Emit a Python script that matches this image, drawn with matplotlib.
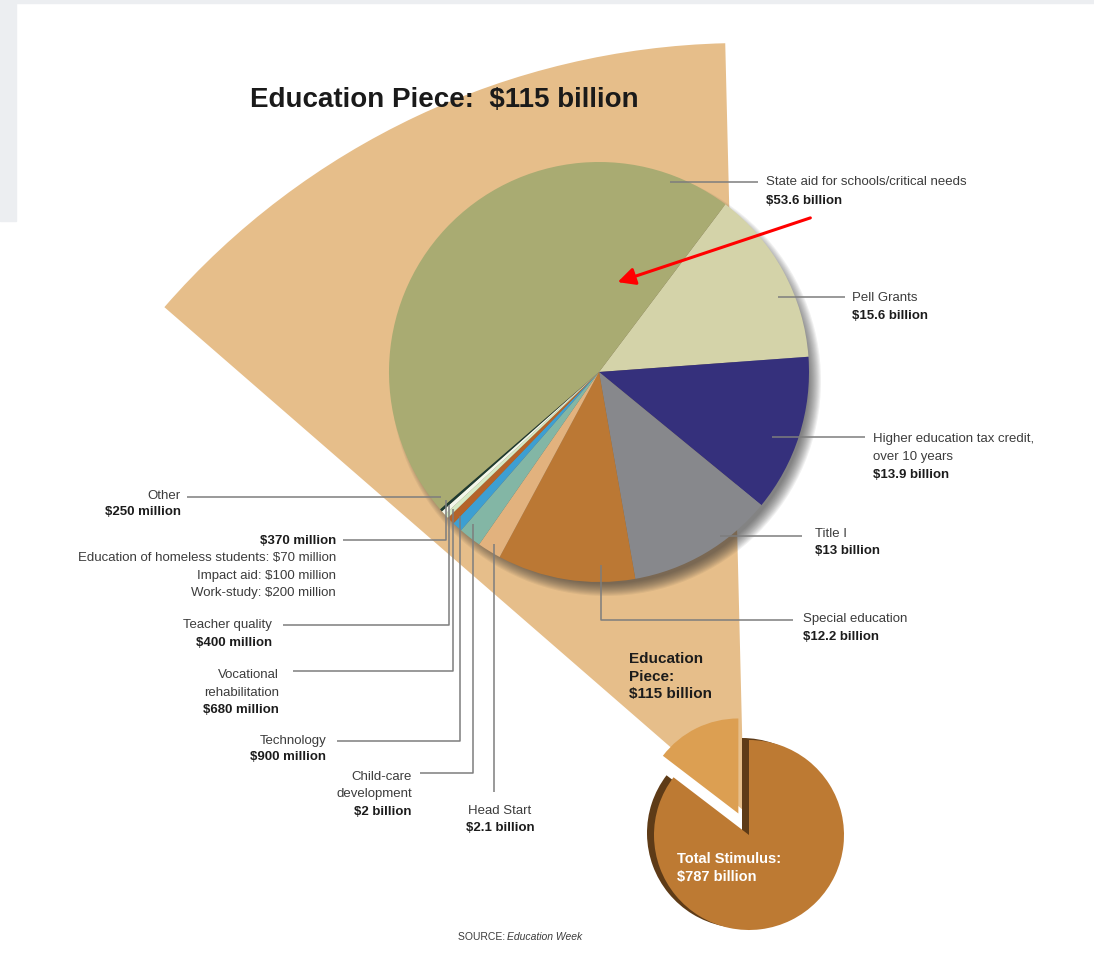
import matplotlib
matplotlib.use("Agg")
import matplotlib.pyplot as plt
from matplotlib.patches import Wedge, Circle, Rectangle

plt.rcParams["font.family"] = ["Liberation Sans Narrow", "Liberation Sans", "DejaVu Sans"]

# ---- data (clockwise from Pell Grants, as drawn) ----
categories = ["Pell Grants", "Higher education tax credit", "Title I", "Special education",
              "Head Start", "Child-care development", "Technology", "Vocational rehabilitation",
              "Teacher quality", "$370 million group", "Other", "State aid for schools/critical needs"]
amounts_bn = [15.6, 13.9, 13.0, 12.2, 2.1, 2.0, 0.9, 0.68, 0.4, 0.37, 0.25, 53.6]
slice_colors = ["#d4d3a9", "#35307c", "#87888c", "#bb7834", "#e2b27e", "#83b6a5",
                "#3d9fd2", "#b4642a", "#d6eac4", "#f3f7ea", "#1e3b30", "#a9ab72"]

stimulus_parts = ["Education piece", "Rest of stimulus"]
stimulus_bn = [115, 787 - 115]

W, H = 1094, 978
TAN = "#e6be8a"
LINE = "#7d7d7d"
TXT = "#3c3c3c"
BOLD = "#1c1c1c"

fig = plt.figure(figsize=(W / 100, H / 100), dpi=100)
fig.set_facecolor("white")
ax = fig.add_axes([0, 0, 1, 1])

# screenshot frame
ax.add_patch(Rectangle((0, 0), 16, 222, color="#eceef1", zorder=0))
ax.add_patch(Rectangle((0, 0), W, 4, color="#eceef1", zorder=0))

# ---- big projected wedge ----
ax.add_patch(Wedge((744, 812), 768, -139, -91.4, facecolor=TAN, edgecolor="none", zorder=1))

# ---- small stimulus pie (y axis is inverted, so data angles are mirrored) ----
edu_deg = 360 * stimulus_bn[0] / sum(stimulus_bn)
small_c, small_r = (749, 836), 95
ax.pie(stimulus_bn, colors=["none", "#5e3b17"], startangle=-(90 + edu_deg),
       radius=small_r, center=(small_c[0] - 7, small_c[1] - 2),
       wedgeprops=dict(linewidth=0, zorder=2))
ax.pie(stimulus_bn, colors=["#dc9f52", "#bd7a33"], startangle=-(90 + edu_deg),
       radius=small_r, center=small_c, explode=[24, 0],
       wedgeprops=dict(linewidth=0, zorder=3))

# ---- main education pie with soft shadow ----
main_c, main_r = (599, 373), 210
for i in range(12):
    ax.add_patch(Circle((main_c[0] + 7, main_c[1] + 9), main_r + 5 - i * 1.1,
                        facecolor="#333333", edgecolor="none", alpha=0.07, zorder=4))
ax.pie(amounts_bn, colors=slice_colors, startangle=-53, counterclock=True,
       radius=main_r, center=main_c, wedgeprops=dict(linewidth=0, zorder=5))

ax.set_xlim(0, W)
ax.set_ylim(H, 0)
ax.set_aspect("auto")
ax.axis("off")


def leader(xs, ys):
    ax.plot(xs, ys, color=LINE, lw=1.1, zorder=6, solid_capstyle="butt")


def label(x, y, lines, ha="left", size=9.5):
    # lines: list of (text, bold)
    for i, (s, b) in enumerate(lines):
        ax.text(x, y[i], s, ha=ha, va="center", fontsize=size,
                fontweight="bold" if b else "normal", color=BOLD if b else TXT, zorder=7)


# title
ax.text(250, 100, "Education Piece:  $115 billion", fontsize=20, fontweight="bold",
        color="#1a1a1a", ha="left", va="center", zorder=7)

# right-hand labels
leader([670, 758], [183, 183])
label(766, [182, 201], [("State aid for schools/critical needs", False), ("$53.6 billion", True)])
leader([778, 845], [298, 298])
label(852, [298, 316], [("Pell Grants", False), ("$15.6 billion", True)])
leader([772, 865], [438, 438])
label(873, [439, 457, 475], [("Higher education tax credit,", False), ("over 10 years", False),
                             ("$13.9 billion", True)])
leader([720, 802], [537, 537])
label(815, [534, 551], [("Title I", False), ("$13 billion", True)])
leader([601, 601, 793], [566, 621, 621])
label(803, [619, 637], [("Special education", False), ("$12.2 billion", True)])

# left-hand labels
leader([187, 441], [498, 498])
label(181, [496, 512], [("Other", False), ("$250 million", True)], ha="right")
leader([343, 446, 446], [541, 541, 501])
label(336, [541, 558, 576, 593], [("$370 million", True),
                                  ("Education of homeless students: $70 million", False),
                                  ("Impact aid: $100 million", False),
                                  ("Work-study: $200 million", False)], ha="right")
leader([283, 449, 449], [626, 626, 506])
label(272, [625, 643], [("Teacher quality", False), ("$400 million", True)], ha="right")
leader([293, 453, 453], [672, 672, 510])
label(279, [675, 693, 710], [("Vocational", False), ("rehabilitation", False),
                             ("$680 million", True)], ha="right")
leader([337, 460, 460], [742, 742, 517])
label(326, [741, 757], [("Technology", False), ("$900 million", True)], ha="right")
leader([420, 473, 473], [774, 774, 525])
label(412, [777, 794, 812], [("Child-care", False), ("development", False),
                             ("$2 billion", True)], ha="right")
leader([494, 494], [545, 793])
label(500, [811, 828], [("Head Start", False), ("$2.1 billion", True)], ha="center")

# small pie texts
for yy, s in zip([659, 677, 694], ["Education", "Piece:", "$115 billion"]):
    ax.text(629, yy, s, fontsize=11, fontweight="heavy", color=BOLD, ha="left", va="center", zorder=7)
ax.text(677, 859, "Total Stimulus:", fontsize=10.5, fontweight="bold", color="white",
        ha="left", va="center", zorder=7)
ax.text(677, 877, "$787 billion", fontsize=10.5, fontweight="bold", color="white",
        ha="left", va="center", zorder=7)

# source
ax.text(458, 937, "SOURCE: ", fontsize=7.5, color=TXT, ha="left", va="center", zorder=7)
ax.text(507, 937, "Education Week", fontsize=7.5, style="italic", color=TXT,
        ha="left", va="center", zorder=7)

# red arrow
ax.annotate("", xy=(615, 284), xytext=(813, 218),
            arrowprops=dict(arrowstyle="-|>", color="#ff0000", lw=2.2, mutation_scale=26),
            zorder=8)

fig.savefig("out.png", dpi=100, facecolor=fig.get_facecolor())
